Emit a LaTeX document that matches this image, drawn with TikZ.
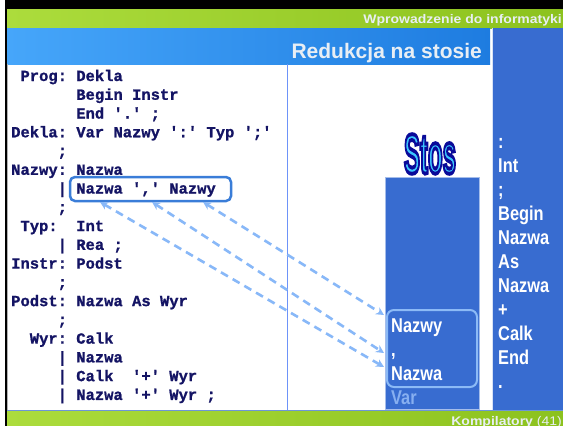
\documentclass[tikz,border=0pt]{standalone}
\usepackage{fontspec}
\setmainfont{Liberation Sans}
\setmonofont[FakeBold=1]{Liberation Mono}
\newfontfamily\narrowf[FakeStretch=0.82]{Liberation Sans}
\newfontfamily\widef[FakeStretch=1.12]{Liberation Sans}
\newfontfamily\stosf[FakeBold=7]{Liberation Sans}
\usetikzlibrary{arrows.meta}
\definecolor{navy}{RGB}{20,20,100}
\definecolor{panelblue}{RGB}{56,108,208}
\definecolor{greenL}{RGB}{172,220,60}
\definecolor{greenR}{RGB}{140,194,30}
\definecolor{titleL}{RGB}{70,166,250}
\definecolor{titleR}{RGB}{30,124,224}
\definecolor{arrowblue}{RGB}{136,184,248}
\definecolor{boxblue}{RGB}{58,125,216}
\definecolor{stackframe}{RGB}{140,186,246}
\definecolor{stosfill}{RGB}{60,200,255}
\definecolor{headtext}{RGB}{232,238,244}
\definecolor{footline}{RGB}{110,150,215}
\definecolor{vartext}{RGB}{135,175,240}
\tikzset{
  gram/.style={anchor=base west, inner sep=0pt, text=navy,
    font=\ttfamily\bfseries\fontsize{15.5}{15.5}\selectfont},
  paneltext/.style={anchor=base west, inner sep=0pt, text=white,
    font=\narrowf\bfseries\fontsize{20}{20}\selectfont},
  dasharrow/.style={draw=arrowblue, line width=2.6pt, dash pattern=on 8pt off 5.5pt,
    {Stealth[length=8pt,width=8pt]}-{Stealth[length=8pt,width=8pt]}},
}
\newcommand\gl[2]{({11+#1*9.3},{81+#2*18.76})}
\begin{document}
\begin{tikzpicture}[x=1pt,y=-1pt]
\useasboundingbox (0,0) rectangle (563,426);
\fill[white] (0,0) rectangle (563,426);
% black frame
\fill[black] (5,0) rectangle (563,9);
\fill[black] (5,0) rectangle (7,426);
% top green bar
\shade[left color=greenL, right color=greenR] (7,9) rectangle (563,28);
\node[anchor=base east, inner sep=0pt, text=headtext,
  font=\widef\bfseries\fontsize{12.5}{12.5}\selectfont] (subject) at (562,23.5) {Wprowadzenie do informatyki};
% title bar
\shade[left color=titleL, right color=titleR] (7,28) rectangle (490,64);
\node[anchor=base east, inner sep=0pt, text=headtext,
  font=\bfseries\fontsize{21}{21}\selectfont] (title) at (482,58) {Redukcja na stosie};
% right panel
\fill[panelblue] (493,28) rectangle (563,410);
\draw[white!80!panelblue, line width=1pt] (492.5,28) -- (492.5,410);
% content separators
\draw[gray!60, line width=0.6pt] (7.5,64) -- (7.5,410);
\draw[arrowblue!80!blue, line width=0.8pt] (287,64) -- (287,410);
% bottom green bar
\fill[footline] (7,409.5) rectangle (563,411.5);
\shade[left color=greenL, right color=greenR] (7,411.5) rectangle (563,426);
\node[anchor=base east, inner sep=0pt, text=headtext,
  font=\widef\fontsize{12.5}{12.5}\selectfont] (footer) at (562,425) {\bfseries Kompilatory\mdseries{} (41)};
% grammar
\node[gram] (l0) at \gl{1}{0} {Prog: Dekla};
\node[gram] (l1) at \gl{7}{1} {Begin Instr};
\node[gram] (l2) at \gl{7}{2} {End '.' ;};
\node[gram] (l3) at \gl{0}{3} {Dekla: Var Nazwy ':' Typ ';'};
\node[gram] (l4) at \gl{5}{4} {;};
\node[gram] (l5) at \gl{0}{5} {Nazwy: Nazwa};
\node[gram] (l6) at \gl{5}{6} {|};
\node[gram] (nazwaR) at \gl{7}{6} {Nazwa};
\node[gram] (commaR) at \gl{13}{6} {','};
\node[gram] (nazwyR) at \gl{17}{6} {Nazwy};
\node[gram] (l7) at \gl{5}{7} {;};
\node[gram] (l8a) at \gl{1}{8} {Typ:};
\node[gram] (l8b) at \gl{7}{8} {Int};
\node[gram] (l9) at \gl{5}{9} {| Rea ;};
\node[gram] (l10) at \gl{0}{10} {Instr: Podst};
\node[gram] (l11) at \gl{5}{11} {;};
\node[gram] (l12) at \gl{0}{12} {Podst: Nazwa As Wyr};
\node[gram] (l13) at \gl{5}{13} {;};
\node[gram] (l14) at \gl{2}{14} {Wyr: Calk};
\node[gram] (l15) at \gl{5}{15} {| Nazwa};
\node[gram] (l16a) at \gl{5}{16} {| Calk};
\node[gram] (l16b) at \gl{13}{16} {'+' Wyr};
\node[gram] (l17) at \gl{5}{17} {| Nazwa '+' Wyr ;};
% rule box
\node[draw=boxblue, line width=2.5pt, rounded corners=5pt, minimum width=161pt,
  minimum height=24pt, inner sep=0pt] (rulebox) at (150.5,189) {};
% Stos title: filled light blue, stroked dark blue (fake-bold stroke)
\node[text=stosfill, inner sep=0pt] (stos) at (430,154)
    {\special{pdf:literal direct 0.04 0.04 0.6 RG}\scalebox{0.6}[1.4]{\fontsize{40}{40}\selectfont\stosf\bfseries Stos}};
% stack
\fill[panelblue] (385,177) rectangle (479,409);
\draw[white!55!panelblue, line width=0.6pt] (385,177) rectangle (479,409);
\node[paneltext] (sNazwy) at (391,332) {Nazwy};
\node[paneltext] (sComma) at (391,356) {,};
\node[paneltext] (sNazwa) at (391,380) {Nazwa};
\node[paneltext, text=vartext] (sVar) at (391,404) {Var};
\node[draw=stackframe, line width=2pt, rounded corners=7pt, minimum width=90pt,
  minimum height=77pt, inner sep=0pt] (handle) at (432,348.5) {};
% right panel input
\foreach \t [count=\i from 0] in {:,Int,;,Begin,Nazwa,As,Nazwa,+,Calk,End,.}
  \node[paneltext] (in\i) at (498,{148+24*\i}) {\t};
% arrows
\coordinate (a1) at (203,202);
\coordinate (a2) at (152,202);
\coordinate (a3) at (100,202);
\coordinate (b1) at (384,315);
\coordinate (b2) at (384,353);
\coordinate (b3) at (384,367);
\draw[dasharrow] (a1) -- (b1);
\draw[dasharrow] (a2) -- (b2);
\draw[dasharrow] (a3) -- (b3);
\end{tikzpicture}
\end{document}
